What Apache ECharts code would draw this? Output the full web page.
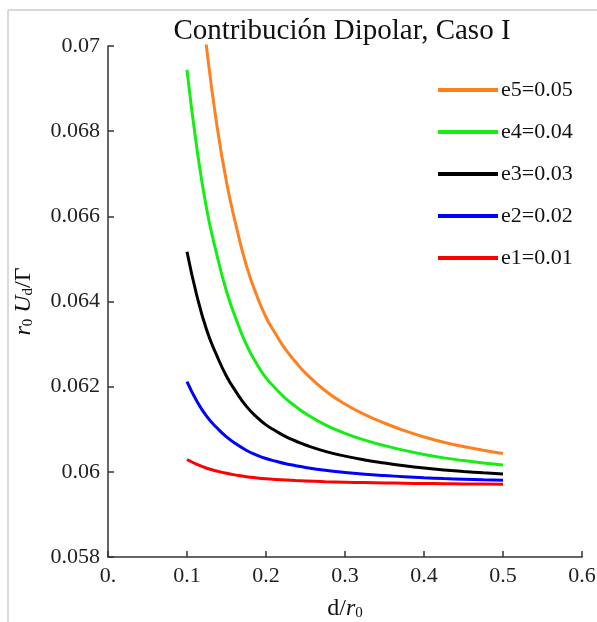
<!DOCTYPE html>
<html>
<head>
<meta charset="utf-8">
<script src="https://cdn.jsdelivr.net/npm/echarts@6/dist/echarts.min.js"></script>
<style>
  html, body { margin: 0; padding: 0; background: #fff; }
  #echart { width: 597px; height: 622px; }
</style>
</head>
<body>
<div id="echart"></div>
<script>
// valores (d/r0 de 0.1 a 0.5)
const dValues = [0.1000, 0.1125, 0.1250, 0.1375, 0.1500, 0.1625, 0.1750, 0.1875, 0.2000, 0.2125, 0.2250, 0.2375, 0.250, 0.275, 0.300, 0.325, 0.350, 0.375, 0.400, 0.425, 0.450, 0.475, 0.500];
const e1 = [0.060290, 0.060175, 0.060085, 0.060020, 0.059965, 0.059923, 0.059887, 0.059860, 0.059838, 0.059822, 0.059808, 0.059796, 0.059786, 0.059769, 0.059757, 0.059747, 0.059739, 0.059732, 0.059726, 0.059721, 0.059717, 0.059713, 0.059710];
const e2 = [0.062120, 0.061660, 0.061300, 0.061040, 0.060820, 0.060652, 0.060508, 0.060400, 0.060312, 0.060248, 0.060190, 0.060144, 0.060102, 0.060036, 0.059986, 0.059946, 0.059914, 0.059886, 0.059862, 0.059842, 0.059826, 0.059812, 0.059800];
const e3 = [0.065170, 0.064135, 0.063325, 0.062740, 0.062245, 0.061867, 0.061543, 0.061300, 0.061102, 0.060958, 0.060828, 0.060724, 0.060630, 0.060481, 0.060369, 0.060279, 0.060207, 0.060144, 0.060090, 0.060045, 0.060009, 0.059977, 0.059950];
const e4 = [0.069440, 0.067600, 0.066160, 0.065120, 0.064240, 0.063568, 0.062992, 0.062560, 0.062208, 0.061952, 0.061720, 0.061536, 0.061368, 0.061104, 0.060904, 0.060744, 0.060616, 0.060504, 0.060408, 0.060328, 0.060264, 0.060208, 0.060160];
const e5 = [0.074930, 0.072055, 0.069930, 0.068180, 0.066805, 0.065755, 0.064855, 0.064180, 0.063630, 0.063230, 0.062868, 0.062580, 0.062318, 0.061905, 0.061593, 0.061343, 0.061143, 0.060968, 0.060818, 0.060693, 0.060593, 0.060505, 0.060430];

const seriesNames = ['e5=0.05', 'e4=0.04', 'e3=0.03', 'e2=0.02', 'e1=0.01'];
const seriesData = [e5, e4, e3, e2, e1];
const colors = ['#ff8020', '#14ee14', '#000000', '#0000ff', '#ff0000'];

const serif = '"Liberation Serif", "DejaVu Serif", serif';

const chart = echarts.init(document.getElementById('echart'));

function pairs(ys) {
    return dValues.map((d, i) => [d, ys[i]]);
}

const option = {
    animation: false,
    backgroundColor: '#ffffff',
    title: {
        text: 'Contribución Dipolar, Caso I',
        left: 337,
        textAlign: 'center',
        top: 12,
        textStyle: { fontFamily: serif, fontSize: 29, fontWeight: 'normal', color: '#111' }
    },
    graphic: [
        { type: 'line', shape: { x1: 8, y1: 10, x2: 8, y2: 622 }, style: { stroke: '#d9d9d9', lineWidth: 2 } },
        { type: 'line', shape: { x1: 8, y1: 10, x2: 597, y2: 10 }, style: { stroke: '#d9d9d9', lineWidth: 2 } }
    ],
    legend: {
        orient: 'vertical',
        left: 438,
        top: 79,
        padding: 0,
        icon: 'rect',
        itemWidth: 60,
        itemHeight: 4,
        itemGap: 20,
        data: seriesNames,
        textStyle: { fontFamily: serif, fontSize: 22, color: '#111', padding: [0, 0, 0, -2] }
    },
    grid: { left: 108, right: 15, top: 46, bottom: 65, outerBoundsMode: 'none', containLabel: false },
    xAxis: {
        type: 'value',
        min: 0,
        max: 0.6,
        interval: 0.1,
        name: '{n|d/}{i|r}{s|0}',
        nameLocation: 'middle',
        nameGap: 39,
        nameTextStyle: {
            rich: {
                n: { fontFamily: serif, fontSize: 24, color: '#111' },
                i: { fontFamily: serif, fontSize: 24, fontStyle: 'italic', color: '#111' },
                s: { fontFamily: serif, fontSize: 15, color: '#111', padding: [10, 0, 0, 0] }
            }
        },
        axisLine: { show: true, lineStyle: { color: '#333', width: 1.5 } },
        axisTick: { show: true, inside: true, length: 6, lineStyle: { color: '#333', width: 1.5 } },
        axisLabel: {
            fontFamily: serif, fontSize: 22, color: '#222', margin: 8,
            formatter: v => v === 0 ? '0.' : String(parseFloat(v.toFixed(2)))
        },
        splitLine: { show: false }
    },
    yAxis: {
        type: 'value',
        min: 0.058,
        max: 0.07,
        interval: 0.002,
        name: '{i|r}{s|0}{i| U}{s|d}{n|/Γ}',
        nameLocation: 'middle',
        nameGap: 72,
        nameTextStyle: {
            rich: {
                i: { fontFamily: serif, fontSize: 24, fontStyle: 'italic', color: '#111' },
                n: { fontFamily: serif, fontSize: 24, color: '#111' },
                s: { fontFamily: serif, fontSize: 15, color: '#111', padding: [10, 0, 0, 0] }
            }
        },
        axisLine: { show: true, lineStyle: { color: '#333', width: 1.5 } },
        axisTick: { show: true, inside: true, length: 6, lineStyle: { color: '#333', width: 1.5 } },
        axisLabel: {
            fontFamily: serif, fontSize: 22, color: '#222', margin: 8,
            formatter: v => String(parseFloat(v.toFixed(3)))
        },
        splitLine: { show: false }
    },
    series: seriesNames.map((name, k) => ({
        name: name,
        type: 'line',
        data: pairs(seriesData[k]),
        smooth: 0.5,
        showSymbol: false,
        symbol: 'none',
        clip: true,
        z: 10 - k,
        lineStyle: { color: colors[k], width: 3 },
        itemStyle: { color: colors[k] }
    }))
};

chart.setOption(option);
</script>
</body>
</html>
